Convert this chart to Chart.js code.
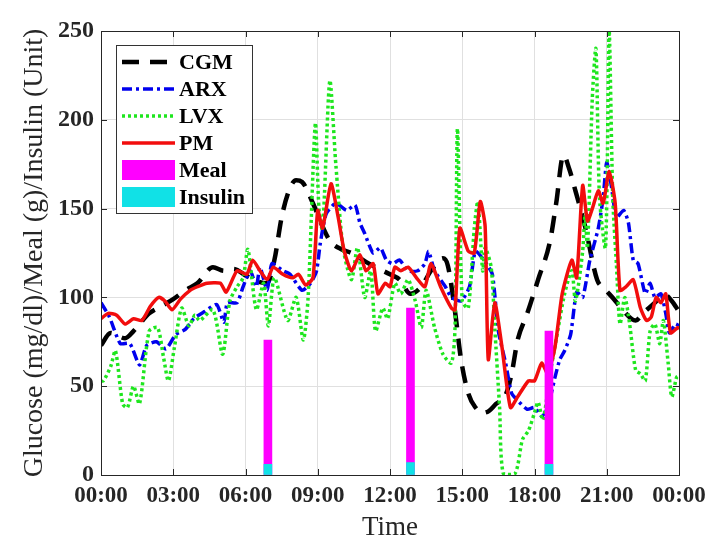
<!DOCTYPE html>
<html>
<head>
<meta charset="utf-8">
<script src="https://cdn.jsdelivr.net/npm/chart.js@4/dist/chart.umd.min.js"></script>
<style>
html,body{margin:0;padding:0;background:#fff;}
canvas{display:block;}
</style>
</head>
<body>
<canvas id="c" width="714" height="547"></canvas>
<script>
// ---- data (time in hours since 00:00) ----
const tickLabels = ['00:00','03:00','06:00','09:00','12:00','15:00','18:00','21:00','00:00'];

const cgmTime   = [0,0.4,0.75,1.0,1.35,2.0,2.5,3.0,3.5,4.0,4.65,5.1,5.5,6.05,6.5,6.9,7.2,7.5,7.8,8.1,8.35,8.8,9.2,9.5,10.0,10.4,11.0,11.4,12.0,12.4,12.85,13.3,13.7,14.2,14.4,14.7,14.95,15.25,15.55,15.85,16.1,16.4,16.8,17.05,17.3,17.7,18.15,18.65,18.9,19.2,19.45,19.7,20.1,20.6,20.9,21.3,21.6,22.2,22.5,23.0,23.35,23.7,24];
const cgmValues = [73,80,78,77,81,91,95,99,104,108,117,115,116,112,109,108,121,145,160,166,165,153,140,132,127,125,120,117,113,110,102,106,115,122,118,92,65,46,38,35,36,40,45,57,76,91,110,132,153,180,172,160,140,110,105,99,94,87,91,97,102,98,92];

const arxTime   = [0,0.35,0.8,1.2,1.6,1.9,2.3,2.7,3.1,3.5,3.85,4.3,4.8,5.1,5.25,5.65,5.9,6.2,6.45,6.6,6.9,7.1,7.55,7.85,8.35,8.7,8.95,9.1,9.35,9.75,10.2,10.55,10.75,10.95,11.3,11.6,11.85,12.1,12.4,12.75,13.15,13.45,13.6,13.85,14.3,14.55,14.95,15.3,15.55,15.95,16.25,16.5,16.8,17.05,17.3,17.7,18.0,18.3,18.55,18.85,19.05,19.25,19.5,19.75,20.0,20.3,20.65,20.85,21.0,21.2,21.4,21.7,21.9,22.1,22.3,22.6,22.8,23.0,23.25,23.45,23.6,23.85,24];
const arxValues = [97,89,74,74,62,73,75,71,79,82,88,92,96,86,97,97,106,115,106,117,104,119,115,113,104,108,115,130,147,153,149,152,142,136,125,128,121,119,121,115,115,119,126,115,106,100,98,106,126,120,113,81,63,46,42,37,38,33,38,55,65,70,79,103,100,121,139,156,176,162,145,149,142,121,119,102,108,100,102,91,80,85,84];

const lvxTime   = [0,0.1,0.4,0.6,0.9,1.1,1.35,1.6,2.0,2.35,2.6,2.8,3.05,3.35,3.65,3.9,4.1,4.65,5.05,5.35,5.65,5.9,6.1,6.45,6.75,6.95,7.2,7.75,8.1,8.4,8.6,8.9,9.05,9.2,9.5,9.75,10.05,10.4,10.65,10.95,11.2,11.4,11.7,11.9,12.2,12.45,12.75,13.05,13.3,13.5,13.85,14.2,14.55,14.7,14.8,15.0,15.25,15.5,15.65,15.85,15.95,16.2,16.35,16.55,16.7,17.2,17.5,17.75,18.0,18.15,18.35,18.65,18.95,19.25,19.55,19.7,20.0,20.1,20.2,20.4,20.55,20.7,20.95,21.1,21.25,21.4,21.55,21.75,21.95,22.2,22.4,22.6,22.8,23.0,23.2,23.35,23.55,23.7,23.9,24];
const lvxValues = [53,53,61,70,40,38,50,40,81,83,66,53,72,94,84,90,87,93,68,98,106,111,127,93,108,84,111,87,100,76,100,198,150,138,222,175,128,110,128,100,115,81,94,88,108,102,110,98,83,104,83,68,63,83,195,98,94,139,154,115,128,117,83,38,1,1,20,25,35,41,31,57,80,102,115,98,126,147,128,212,240,156,128,250,156,119,85,100,85,59,57,53,81,85,74,87,63,44,55,56];

const pmTime    = [0,0.3,0.65,1.0,1.35,1.7,2.05,2.4,2.65,2.95,3.3,3.7,4.0,4.4,4.95,5.2,5.65,6.05,6.3,6.6,6.9,7.15,7.55,7.95,8.2,8.5,8.8,9.0,9.2,9.55,9.85,10.1,10.4,10.75,11.0,11.3,11.5,11.8,12.0,12.2,12.45,12.75,13.1,13.45,13.7,14.1,14.55,14.7,14.9,15.25,15.5,15.75,15.95,16.08,16.35,16.65,17.0,17.3,17.75,18.0,18.3,18.55,18.85,19.15,19.55,19.75,20.0,20.2,20.4,20.65,20.85,21.1,21.35,21.55,21.8,22.1,22.4,22.65,22.85,23.05,23.25,23.45,23.65,23.95,24];
const pmValues  = [88,91,90,85,88,87,95,100,98,93,99,104,106,108,108,103,115,113,121,115,110,117,113,111,113,107,111,149,139,164,145,126,115,124,115,119,102,108,106,117,115,117,111,106,119,106,94,93,139,126,125,154,140,65,97,72,38,44,53,53,63,57,72,102,121,111,163,143,150,160,153,171,153,104,106,110,94,87,89,100,97,102,80,83,82];

const mealTime     = [6.93,12.85,18.6];
const mealValues   = [76,94,81];
const insulinValues= [6,7,6];

// ---- helpers ----
const pts = (t,v) => t.map((x,i)=>({x:x,y:v[i]}));
const FONT = "'Liberation Serif','Times New Roman',serif";
const AXC = '#262626';

const boxPlugin = {
  id:'boxTicks',
  afterDatasetsDraw(chart){
    const {ctx, chartArea:a, scales:{x,y}} = chart;
    ctx.save();
    ctx.strokeStyle = AXC; ctx.lineWidth = 1;
    ctx.beginPath();
    x.ticks.forEach(t=>{
      const px = Math.round(x.getPixelForValue(t.value))+0.5;
      ctx.moveTo(px,a.bottom); ctx.lineTo(px,a.bottom-6);
      ctx.moveTo(px,a.top); ctx.lineTo(px,a.top+6);
    });
    y.ticks.forEach(t=>{
      const py = Math.round(y.getPixelForValue(t.value))+0.5;
      ctx.moveTo(a.left,py); ctx.lineTo(a.left+6,py);
      ctx.moveTo(a.right,py); ctx.lineTo(a.right-6,py);
    });
    ctx.stroke();
    ctx.strokeRect(Math.round(a.left)+0.5, Math.round(a.top)+0.5, Math.round(a.right-a.left), Math.round(a.bottom-a.top));
    ctx.restore();
  }
};

const legendPlugin = {
  id:'boxLegend',
  afterDraw(chart){
    const ctx = chart.ctx;
    const order = [0,1,2,3,4,5];
    const bx=116, by=45, bw=136, bh=168, rowH=27;
    ctx.save();
    ctx.fillStyle='#fff'; ctx.fillRect(bx,by,bw,bh);
    ctx.strokeStyle='#333'; ctx.lineWidth=1;
    ctx.strokeRect(bx+0.5,by+0.5,bw,bh);
    ctx.font = "bold 22px " + FONT;
    ctx.textBaseline='middle';
    order.forEach((di,k)=>{
      const ds = chart.data.datasets[di];
      const cy = by + 17 + k*rowH;
      if (ds.type === 'bar') {
        ctx.fillStyle = ds.backgroundColor;
        ctx.fillRect(bx+6, cy-10, 53, 20);
      } else {
        ctx.strokeStyle = ds.borderColor;
        ctx.lineWidth = ds.borderWidth;
        ctx.setLineDash(ds.borderDash || []);
        ctx.beginPath(); ctx.moveTo(bx+6,cy); ctx.lineTo(bx+59,cy); ctx.stroke();
        ctx.setLineDash([]);
      }
      ctx.fillStyle='#000';
      ctx.fillText(ds.label, bx+63, cy+1);
    });
    ctx.restore();
  }
};

new Chart(document.getElementById('c'), {
  type:'line',
  data:{
    datasets:[
      {type:'line', label:'CGM', data:pts(cgmTime,cgmValues), borderColor:'#000', borderWidth:4.5, borderDash:[17,11], pointRadius:0, tension:0.4, cubicInterpolationMode:'monotone', order:5},
      {type:'line', label:'ARX', data:pts(arxTime,arxValues), borderColor:'#0000ee', borderWidth:3.5, borderDash:[10,4,3,4], pointRadius:0, tension:0.2, order:4},
      {type:'line', label:'LVX', data:pts(lvxTime,lvxValues), borderColor:'#1ee61e', borderWidth:3.5, borderDash:[3,3], pointRadius:0, tension:0.25, order:3},
      {type:'line', label:'PM', data:pts(pmTime,pmValues), borderColor:'#f20d0d', borderWidth:3.5, pointRadius:0, tension:0.2, order:2},
      {type:'bar', label:'Meal', data:pts(mealTime,mealValues), backgroundColor:'#ff00ff', barThickness:8, grouped:false, order:1},
      {type:'bar', label:'Insulin', data:pts(mealTime,insulinValues), backgroundColor:'#11e1e6', barThickness:8, grouped:false, order:0}
    ]
  },
  options:{
    responsive:false,
    animation:false,
    devicePixelRatio:1,
    layout:{padding:{top:31,right:35,left:0,bottom:0}},
    plugins:{legend:{display:false}, tooltip:{enabled:false}},
    scales:{
      x:{
        type:'linear', min:0, max:24, offset:false,
        afterBuildTicks(s){ s.ticks = tickLabels.map((l,i)=>({value:i*3})); },
        afterFit(s){ s.height = 72; },
        ticks:{ callback:(v,i)=>tickLabels[i], color:AXC, padding:7, maxRotation:0, autoSkip:false,
                font:{family:FONT, size:23, weight:'bold'} },
        grid:{ color:'#e0e0e0', drawTicks:false, offset:false },
        border:{ color:AXC, width:1 },
        title:{ display:true, text:'Time', color:AXC, padding:{top:0,bottom:3},
                font:{family:FONT, size:27, weight:'normal'} }
      },
      y:{
        min:0, max:250,
        afterFit(s){ s.width = 101; },
        ticks:{ stepSize:50, color:AXC, padding:7, font:{family:FONT, size:24, weight:'bold'} },
        grid:{ color:'#e0e0e0', drawTicks:false },
        border:{ color:AXC, width:1 },
        title:{ display:true, text:'Glucose (mg/dl)/Meal (g)/Insulin (Unit)', color:AXC, padding:{top:18,bottom:0},
                font:{family:FONT, size:28, weight:'normal'} }
      }
    }
  },
  plugins:[boxPlugin, legendPlugin]
});
</script>
</body>
</html>
